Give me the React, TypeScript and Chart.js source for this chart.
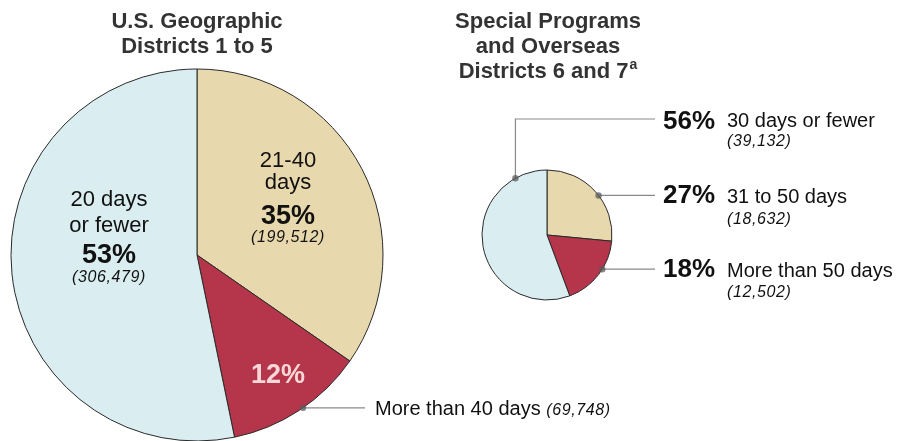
import React, { useEffect, useRef } from "react";
import { Chart, registerables } from "chart.js";

Chart.register(...registerables);

// ---- data ----
const leftTitle = ["U.S. Geographic", "Districts 1 to 5"];
const leftCategories = ["21-40 days", "More than 40 days", "20 days or fewer"];
const leftValues = [199512, 69748, 306479];
const leftPercents = ["35%", "12%", "53%"];

const rightTitle = ["Special Programs", "and Overseas", "Districts 6 and 7"];
const rightTitleSup = "a";
const rightCategories = ["31 to 50 days", "More than 50 days", "30 days or fewer"];
const rightValues = [18632, 12502, 39132];
const rightPercents = ["27%", "18%", "56%"];

// ---- style ----
const sliceColors = ["#E8D8AD", "#B5354A", "#DAEDF0"];
const FONT = "'Liberation Sans', Arial, Helvetica, sans-serif";
const W = 904;
const H = 441;

const fmt = (n: number) => n.toLocaleString("en-US");

function txt(
  ctx: CanvasRenderingContext2D,
  s: string,
  x: number,
  y: number,
  font: string,
  color: string,
  align: CanvasTextAlign = "center",
  spacing = "0px"
) {
  ctx.save();
  ctx.font = font;
  ctx.fillStyle = color;
  ctx.textAlign = align;
  ctx.textBaseline = "alphabetic";
  (ctx as any).letterSpacing = spacing;
  ctx.fillText(s, x, y);
  ctx.restore();
}

function edgePoint(arc: any, frac: number) {
  const a = arc.startAngle + (arc.endAngle - arc.startAngle) * frac;
  return { x: arc.x + Math.cos(a) * arc.outerRadius, y: arc.y + Math.sin(a) * arc.outerRadius };
}

function dot(ctx: CanvasRenderingContext2D, p: { x: number; y: number }) {
  ctx.save();
  ctx.beginPath();
  ctx.arc(p.x, p.y, 3.2, 0, Math.PI * 2);
  ctx.fillStyle = "rgba(90,90,90,0.75)";
  ctx.fill();
  ctx.restore();
}

function line(ctx: CanvasRenderingContext2D, pts: number[][]) {
  ctx.save();
  ctx.beginPath();
  ctx.moveTo(pts[0][0], pts[0][1]);
  for (let i = 1; i < pts.length; i++) ctx.lineTo(pts[i][0], pts[i][1]);
  ctx.strokeStyle = "#8a8a8a";
  ctx.lineWidth = 1.2;
  ctx.stroke();
  ctx.restore();
}

const REG = `20px ${FONT}`;
const REG_IN = `22px ${FONT}`;
const BOLD = `bold 27px ${FONT}`;
const BOLD_R = `bold 26px ${FONT}`;
const ITAL = `italic 16px ${FONT}`;
const ISP = "0.6px";
const TITLE = `bold 22px ${FONT}`;

const leftPlugin = {
  id: "leftLabels",
  afterDraw(chart: any) {
    const ctx: CanvasRenderingContext2D = chart.ctx;
    const arcs = chart.getDatasetMeta(0).data;
    const cx = arcs[0].x;
    const cy = arcs[0].y;
    // title
    txt(ctx, leftTitle[0], cx, 28, TITLE, "#333333");
    txt(ctx, leftTitle[1], cx, 53, TITLE, "#333333");
    // tan slice
    const tx = cx + 91;
    const tb = cy - 88;
    const tanWords = ["21-40", "days"];
    txt(ctx, tanWords[0], tx, tb, REG_IN, "#111");
    txt(ctx, tanWords[1], tx, tb + 22, REG_IN, "#111");
    txt(ctx, leftPercents[0], tx, tb + 57, BOLD, "#111");
    txt(ctx, `(${fmt(leftValues[0])})`, tx, tb + 75, ITAL, "#111", "center", ISP);
    // blue slice
    const bx = cx - 88;
    const bb = cy - 49;
    const blueWords = ["20 days", "or fewer"];
    txt(ctx, blueWords[0], bx, bb, REG_IN, "#111");
    txt(ctx, blueWords[1], bx, bb + 26, REG_IN, "#111");
    txt(ctx, leftPercents[2], bx, bb + 57, BOLD, "#111");
    txt(ctx, `(${fmt(leftValues[2])})`, bx, bb + 76, ITAL, "#111", "center", ISP);
    // red slice
    txt(ctx, leftPercents[1], cx + 81, cy + 128, BOLD, "#F7D7D7");
    const p = edgePoint(arcs[1], 0.47);
    line(ctx, [[p.x, p.y], [365, p.y]]);
    dot(ctx, p);
    ctx.save();
    ctx.font = REG;
    const lbl = leftCategories[1] + " ";
    const w = ctx.measureText(lbl).width;
    ctx.restore();
    txt(ctx, lbl, 375, p.y + 7, REG, "#111", "left");
    txt(ctx, `(${fmt(leftValues[1])})`, 375 + w, p.y + 7, ITAL, "#111", "left", ISP);
  },
};

const rightPlugin = {
  id: "rightLabels",
  afterDraw(chart: any) {
    const ctx: CanvasRenderingContext2D = chart.ctx;
    const arcs = chart.getDatasetMeta(0).data;
    const cx = arcs[0].x;
    // title
    txt(ctx, rightTitle[0], cx + 1, 28, TITLE, "#333333");
    txt(ctx, rightTitle[1], cx + 1, 53, TITLE, "#333333");
    ctx.save();
    ctx.font = TITLE;
    const mw = ctx.measureText(rightTitle[2]).width;
    ctx.font = `bold 14px ${FONT}`;
    const sw = ctx.measureText(rightTitleSup).width;
    ctx.restore();
    const start = cx + 1 - (mw + sw + 1) / 2;
    txt(ctx, rightTitle[2], start, 78, TITLE, "#333333", "left");
    txt(ctx, rightTitleSup, start + mw + 1, 69, `bold 14px ${FONT}`, "#333333", "left");

    const PX = 663;
    const LX = 727;
    const EX = 655;
    // blue (30 days or fewer) - goes up then right
    const pb = edgePoint(arcs[2], 0.855);
    const ly = 119;
    line(ctx, [[pb.x, pb.y], [pb.x, ly], [EX, ly]]);
    dot(ctx, pb);
    txt(ctx, rightPercents[2], PX, ly + 10, BOLD_R, "#111", "left");
    txt(ctx, rightCategories[2], LX, ly + 8, REG, "#111", "left");
    txt(ctx, `(${fmt(rightValues[2])})`, LX, ly + 27, ITAL, "#111", "left", ISP);
    // tan
    const pt = edgePoint(arcs[0], 0.55);
    line(ctx, [[pt.x, pt.y], [EX, pt.y]]);
    dot(ctx, pt);
    txt(ctx, rightPercents[0], PX, pt.y + 8, BOLD_R, "#111", "left");
    txt(ctx, rightCategories[0], LX, pt.y + 8, REG, "#111", "left");
    txt(ctx, `(${fmt(rightValues[0])})`, LX, pt.y + 29, ITAL, "#111", "left", ISP);
    // red
    const pr = edgePoint(arcs[1], 0.41);
    line(ctx, [[pr.x, pr.y], [EX, pr.y]]);
    dot(ctx, pr);
    txt(ctx, rightPercents[1], PX, pr.y + 8, BOLD_R, "#111", "left");
    txt(ctx, rightCategories[1], LX, pr.y + 8, REG, "#111", "left");
    txt(ctx, `(${fmt(rightValues[1])})`, LX, pr.y + 28, ITAL, "#111", "left", ISP);
  },
};

function makePie(canvas: HTMLCanvasElement, labels: string[], values: number[], radius: number, padding: any, plugin: any) {
  return new Chart(canvas, {
    type: "pie",
    data: {
      labels,
      datasets: [
        {
          data: values,
          backgroundColor: sliceColors,
          borderColor: "#2a2a2a",
          borderWidth: 1,
          hoverOffset: 0,
        },
      ],
    },
    options: {
      responsive: false,
      animation: false,
      radius,
      layout: { padding },
      plugins: { legend: { display: false }, tooltip: { enabled: false }, title: { display: false } },
      events: [],
    } as any,
    plugins: [plugin],
  });
}

export default function App() {
  const leftRef = useRef<HTMLCanvasElement>(null);
  const rightRef = useRef<HTMLCanvasElement>(null);
  useEffect(() => {
    const a = makePie(leftRef.current!, leftCategories, leftValues, 186, { left: 11, right: W - 11 - 372, top: 69, bottom: 0 }, leftPlugin);
    const b = makePie(rightRef.current!, rightCategories, rightValues, 65, { left: 482, right: W - 612, top: 170, bottom: H - 300 }, rightPlugin);
    return () => {
      a.destroy();
      b.destroy();
    };
  }, []);
  const cs: React.CSSProperties = { position: "absolute", left: 0, top: 0, width: W, height: H };
  return (
    <div style={{ position: "absolute", left: 0, top: 0, width: W, height: H, background: "#fff" }}>
      <canvas ref={leftRef} width={W} height={H} style={cs} />
      <canvas ref={rightRef} width={W} height={H} style={cs} />
    </div>
  );
}
